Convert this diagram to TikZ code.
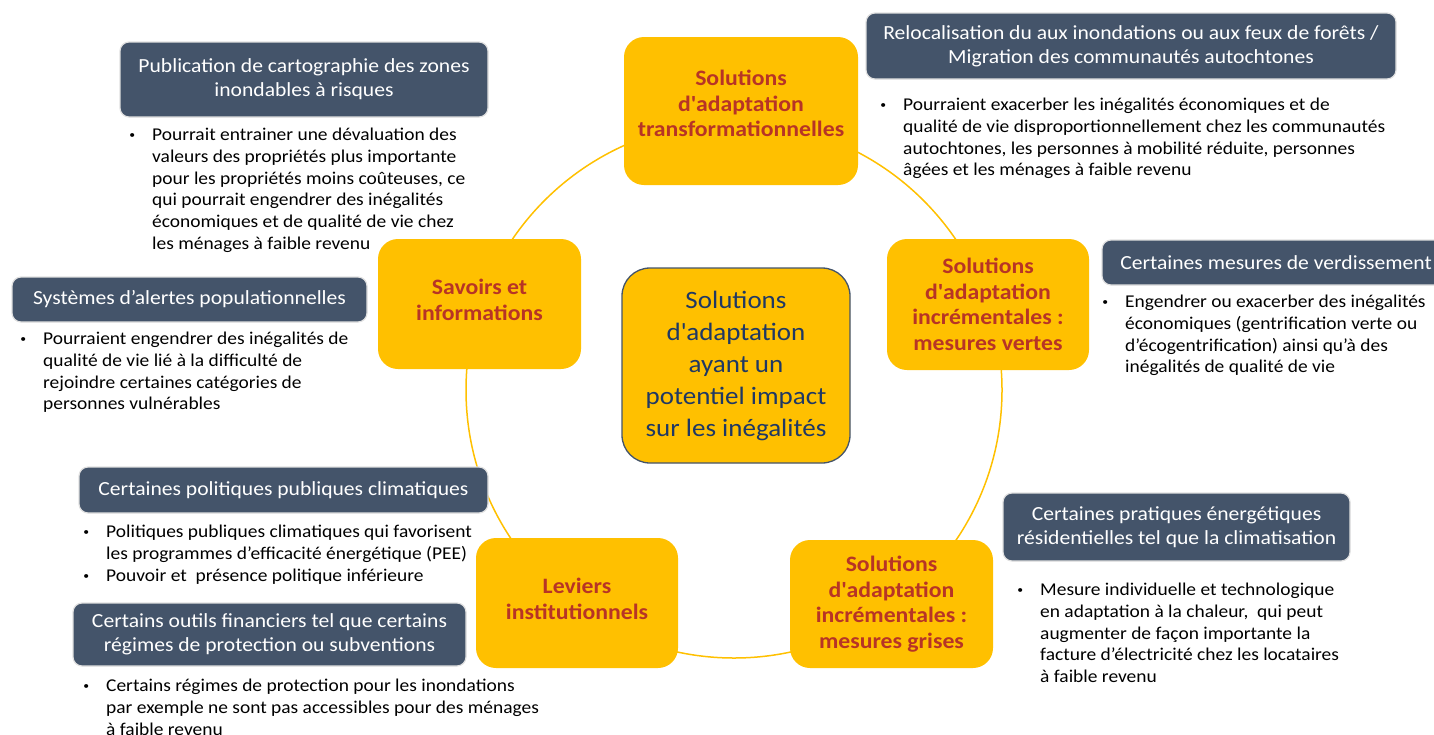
\documentclass[tikz,border=0pt]{standalone}
\usepackage{fontspec}
\setmainfont{Carlito}[FakeStretch=1.08]
\definecolor{jaune}{HTML}{FFC000}
\definecolor{ardoise}{HTML}{44546A}
\definecolor{brique}{RGB}{183,52,38}
\definecolor{marine}{HTML}{1F3864}
\tikzset{
  solution/.style={fill=jaune, rounded corners=20pt, text=brique, align=center, font=\bfseries\fontsize{22}{25.5}\selectfont},
  levier/.style={fill=ardoise, draw=black!12, line width=1.2pt, rounded corners=9pt, text=white, align=center, font=\fontsize{20}{24}\selectfont},
  effet/.style={anchor=north west, align=left, inner sep=0pt, font=\fontsize{18}{21.7}\selectfont},
}
\newcommand{\puce}{\llap{\raisebox{2pt}{\scalebox{0.6}{\textbullet}}\hspace{17pt}}}

\begin{document}
\begin{tikzpicture}[x=1pt,y=-1pt]
                \useasboundingbox (0,0) rectangle (1434,734);
                \draw[jaune, line width=1.5pt] (734,390) circle (268pt);
                \node[solution, minimum width=234pt, minimum height=148pt] (transfo) at (741,111) {Solutions\\d\textquotesingle adaptation\\transformationnelles\\[-11pt]\mbox{}};
                \node[solution, minimum width=203pt, minimum height=130pt] (savoirs) at (479.5,304) {Savoirs et\\informations\\[-17pt]\mbox{}};
                \node[solution, minimum width=202pt, minimum height=131pt] (vertes) at (988,304.5) {Solutions\\d\textquotesingle adaptation\\incrémentales :\\mesures vertes};
                \node[solution, minimum width=202pt, minimum height=130pt] (leviers) at (577,603) {Leviers\\institutionnels\\[-17pt]\mbox{}};
                \node[solution, minimum width=203pt, minimum height=128pt] (grises) at (891.5,604) {Solutions\\d\textquotesingle adaptation\\incrémentales :\\mesures grises};
                \node[solution, draw=ardoise, line width=1.3pt, rounded corners=28pt, text=marine, font=\fontsize{25}{32}\selectfont, minimum width=228pt, minimum height=195pt] (centre) at (736,365.5) {Solutions\\d\textquotesingle adaptation\\ayant un\\potentiel impact\\sur les inégalités};
                \node[levier, minimum width=368pt, minimum height=75pt] (publi) at (304,79.5) {Publication de cartographie des zones\\inondables à risques};
                \node[levier, minimum width=530pt, minimum height=66pt] (reloc) at (1131,46) {Relocalisation du aux inondations ou aux feux de forêts /\\Migration des communautés autochtones};
                \node[levier, minimum width=355pt, minimum height=45pt] (alertes) at (189.5,299.5) {Systèmes d’alertes populationnelles};
                \node[levier, minimum width=348pt, minimum height=45pt] (verdis) at (1276,262.5) {Certaines mesures de verdissement};
                \node[levier, minimum width=409pt, minimum height=46pt] (politiques) at (283.5,490) {Certaines politiques publiques climatiques};
                \node[levier, minimum width=393pt, minimum height=63pt] (outils) at (269.5,634.5) {Certains outils financiers tel que certains\\régimes de protection ou subventions};
                \node[levier, minimum width=347pt, minimum height=68pt] (pratiques) at (1176.5,527) {Certaines pratiques énergétiques\\résidentielles tel que la climatisation};
                \node[effet] (publi-effet) at (152,128) {\puce Pourrait entrainer une dévaluation des\\valeurs des propriétés plus importante\\pour les propriétés moins coûteuses, ce\\qui pourrait engendrer des inégalités\\économiques et de qualité de vie chez\\les ménages à faible revenu};
                \node[effet] (reloc-effet) at (903,98) {\puce Pourraient exacerber les inégalités économiques et de\\qualité de vie disproportionnellement chez les communautés\\autochtones, les personnes à mobilité réduite, personnes\\âgées et les ménages à faible revenu};
                \node[effet] (alertes-effet) at (43,332) {\puce Pourraient engendrer des inégalités de\\qualité de vie lié à la difficulté de\\rejoindre certaines catégories de\\personnes vulnérables};
                \node[effet] (verdis-effet) at (1125,295) {\puce Engendrer ou exacerber des inégalités\\économiques (gentrification verte ou\\d’écogentrification) ainsi qu’à des\\inégalités de qualité de vie};
                \node[effet] (politiques-effet) at (106,525) {\puce Politiques publiques climatiques qui favorisent\\les programmes d’efficacité énergétique (PEE)\\\puce Pouvoir et\ \ présence politique inférieure};
                \node[effet] (outils-effet) at (106,679) {\puce Certains régimes de protection pour les inondations\\par exemple ne sont pas accessibles pour des ménages\\à faible revenu};
                \node[effet] (pratiques-effet) at (1040,583) {\puce Mesure individuelle et technologique\\en adaptation à la chaleur,\ \ qui peut\\augmenter de façon importante la\\facture d’électricité chez les locataires\\à faible revenu};
            \end{tikzpicture}
\end{document}
